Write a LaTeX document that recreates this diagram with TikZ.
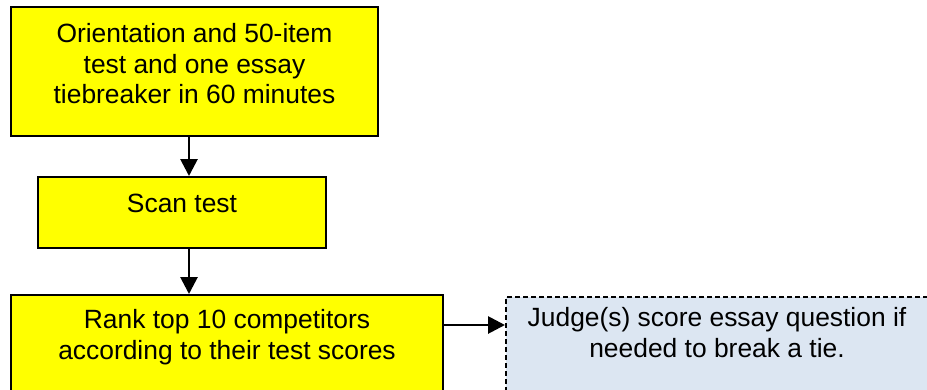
\documentclass[tikz,border=0pt]{standalone}
\usepackage{fontspec}
\setmainfont{Liberation Sans}
\usetikzlibrary{arrows.meta}
\definecolor{stageyellow}{RGB}{255,255,0}
\definecolor{judgeblue}{RGB}{220,230,242}
\tikzset{
  stage/.style={draw=black,line width=2pt,fill=stageyellow,inner sep=0pt},
  judgebox/.style={draw=black,line width=2pt,dash pattern=on 5pt off 3pt,fill=judgeblue,inner sep=0pt},
  caption/.style={align=center,inner sep=0pt,anchor=north,font=\fontsize{26.4}{30.4}\selectfont},
  flow/.style={line width=2.8pt,-{Triangle[length=17pt,width=17pt]}}
}
\begin{document}
\begin{tikzpicture}[x=1pt,y=-1pt]
  \useasboundingbox (0,0) rectangle (927,389);
  \clip (0,0) rectangle (927,389);
  \node[stage,minimum width=367pt,minimum height=129pt] (orient) at (194.5,71.5) {};
  \node[caption] (orienttxt) at (194.5,23.5) {Orientation and 50-item\\test and one essay\\tiebreaker in 60 minutes};
  \node[stage,minimum width=288pt,minimum height=71pt] (scan) at (182,212.5) {};
  \node[caption] (scantxt) at (182,194) {Scan test};
  \node[stage,minimum width=432pt,minimum height=110pt] (rank) at (227,350) {};
  \node[caption] (ranktxt) at (227,309.5) {Rank top 10 competitors\\according to their test scores};
  \node[judgebox,minimum width=460pt,minimum height=110pt] (judge) at (736,352) {};
  \node[caption] (judgetxt) at (717,307.5) {Judge(s) score essay question if\\needed to break a tie.};
  \coordinate (spine) at (189,0);
  \coordinate (tie) at (0,325);
  \draw[flow] (orient.south -| spine) -- (scan.north -| spine);
  \draw[flow] (scan.south -| spine) -- (rank.north -| spine);
  \draw[flow] (rank.east |- tie) -- (judge.west |- tie);
\end{tikzpicture}
\end{document}
